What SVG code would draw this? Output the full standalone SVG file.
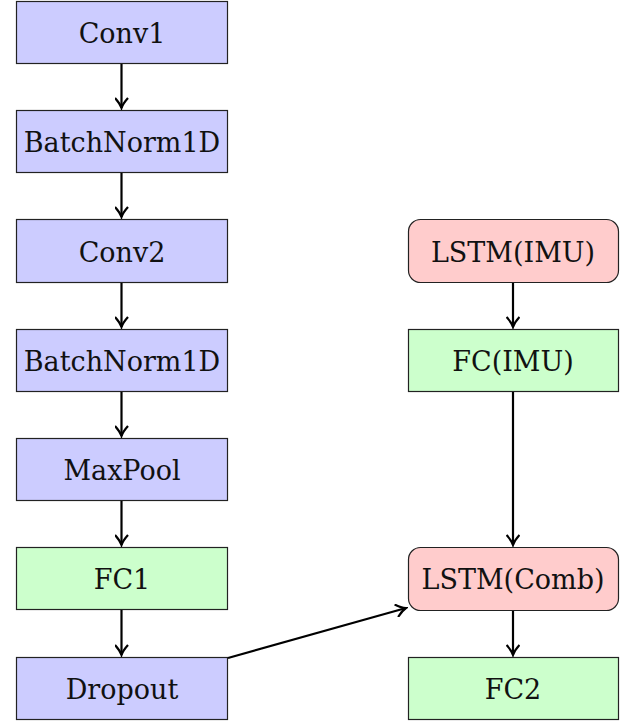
<svg xmlns="http://www.w3.org/2000/svg" width="626" height="723" viewBox="0 0 626 723">
<style>
.b{stroke:#222;stroke-width:1.2}
.blue{fill:#ccccff}
.green{fill:#ccffcc}
.red{fill:#ffcccc}
text{font-family:"DejaVu Serif",serif;font-size:27px;fill:#111;text-anchor:middle}
.c path{stroke:#000;stroke-width:2.2;fill:none;marker-end:url(#ah)}
</style>
<defs>
<marker id="ah" markerWidth="14" markerHeight="14" viewBox="-12 -7 14 14" refX="0" refY="0" orient="auto" markerUnits="userSpaceOnUse">
<path d="M-10,-6.5 Q-4.5,-1.5 0,0 Q-4.5,1.5 -10,6.5" fill="none" stroke="#000" stroke-width="2.2"/>
</marker>
</defs>
<rect width="626" height="723" fill="#fff"/>
<g id="conv1"><rect class="b blue" x="16.5" y="1.5" width="211" height="62"/><text x="122" y="43">Conv1</text></g>
<g id="bn1"><rect class="b blue" x="16.5" y="110.5" width="211" height="62"/><text x="122" y="152">BatchNorm1D</text></g>
<g id="conv2"><rect class="b blue" x="16.5" y="219.5" width="211" height="63"/><text x="122" y="262">Conv2</text></g>
<g id="bn2"><rect class="b blue" x="16.5" y="329.5" width="211" height="62"/><text x="122" y="371">BatchNorm1D</text></g>
<g id="maxpool"><rect class="b blue" x="16.5" y="438.5" width="211" height="62"/><text x="122" y="480">MaxPool</text></g>
<g id="fc1"><rect class="b green" x="16.5" y="547.5" width="211" height="62"/><text x="122" y="589">FC1</text></g>
<g id="dropout"><rect class="b blue" x="16.5" y="657.5" width="211" height="62"/><text x="122" y="699">Dropout</text></g>
<g id="lstm_imu"><rect class="b red" x="408.5" y="219.5" width="210" height="63" rx="12"/><text x="513" y="262">LSTM(IMU)</text></g>
<g id="fc_imu"><rect class="b green" x="408.5" y="329.5" width="210" height="62"/><text x="513" y="371">FC(IMU)</text></g>
<g id="lstm_comb"><rect class="b red" x="408.5" y="547.5" width="210" height="63" rx="12"/><text x="513" y="589">LSTM(Comb)</text></g>
<g id="fc2"><rect class="b green" x="408.5" y="657.5" width="210" height="62"/><text x="513" y="699">FC2</text></g>
<g class="c" id="connectors">
<path d="M121.5,64 V108"/>
<path d="M121.5,173 V217"/>
<path d="M121.5,283 V327"/>
<path d="M121.5,392 V436"/>
<path d="M121.5,501 V545"/>
<path d="M121.5,610 V655"/>
<path d="M513,283 V327"/>
<path d="M513,392 V545"/>
<path d="M513,611 V655"/>
<path d="M228,658 L406,608"/>
</g>
</svg>
